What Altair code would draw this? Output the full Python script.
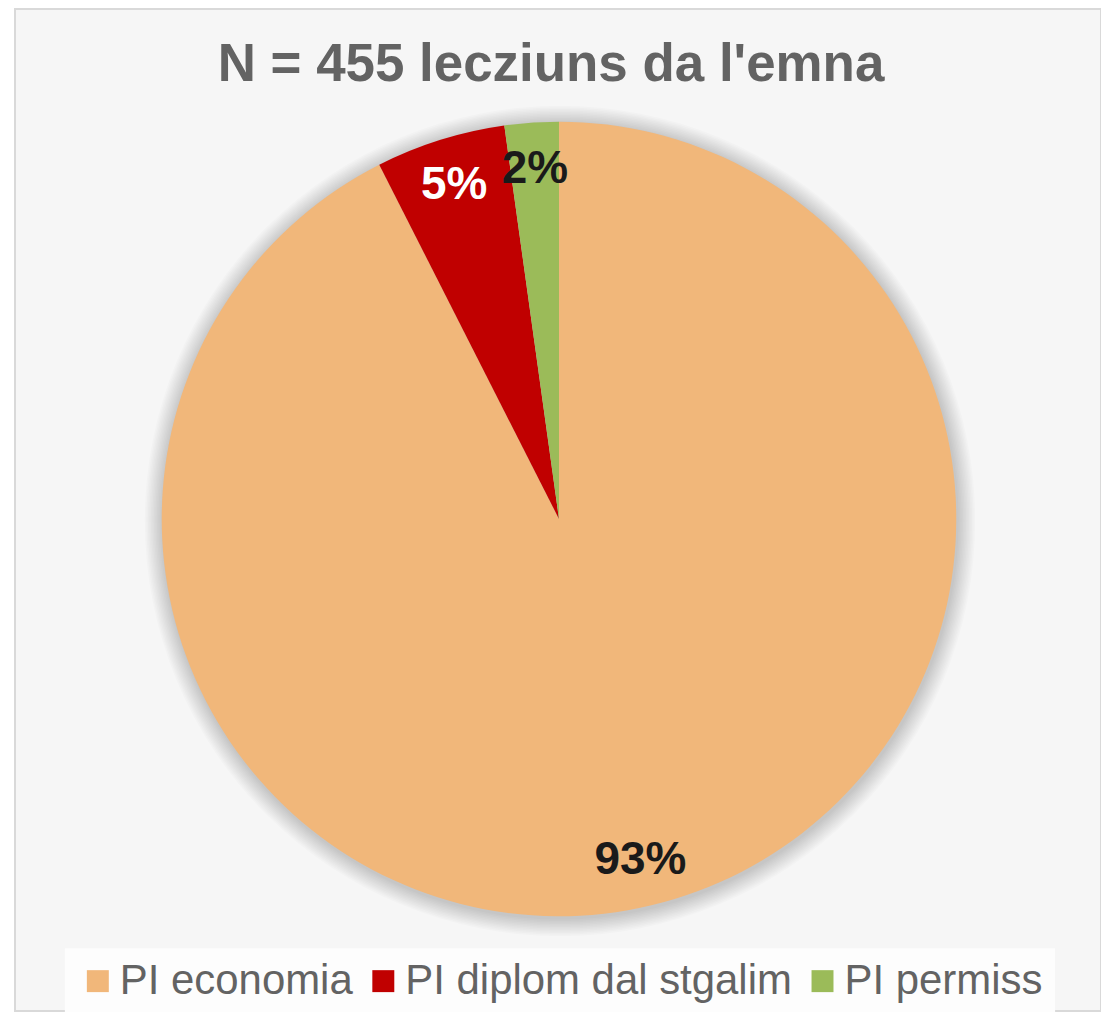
import altair as alt
import pandas as pd

# ---- data ----
categories = ["PI economia", "PI diplom dal stgalim", "PI permiss"]
counts = [421, 24, 10]
colors = ["#F1B77A", "#C00000", "#9BBB59"]
title_text = "N = 455 lecziuns da l'emna"

total = sum(counts)
df = pd.DataFrame({"categoria": categories, "n": counts, "idx": list(range(len(categories)))})
df["label"] = [f"{round(v / total * 100)}%" for v in counts]
one = pd.DataFrame({"k": [0]})

# ---- layout ----
W, H = 1088, 1004
CX, CY = 545, 511
R = 398
FONT = "Liberation Sans"
TXT = "#636363"

color_scale = alt.Scale(domain=categories, range=colors)

shadows = [
    alt.Chart(one).mark_arc(radius=R + 1.5 * k, theta=0, theta2=6.2832,
                            color="#000000", opacity=0.014)
    .encode(x=alt.value(CX + 1), y=alt.value(CY + 2))
    for k in range(1, 13)
]

base = alt.Chart(df).encode(
    theta=alt.Theta("n:Q", stack=True),
    order=alt.Order("idx:Q"),
    x=alt.value(CX),
    y=alt.value(CY),
)

pie = base.mark_arc(radius=R).encode(
    color=alt.Color(
        "categoria:N",
        scale=color_scale,
        legend=alt.Legend(
            title=None, orient="none", legendX=50, legendY=941,
            direction="horizontal", symbolType="square", symbolSize=484,
            symbolStrokeWidth=0, symbolOpacity=1,
            labelFontSize=42, labelFont=FONT, labelColor=TXT,
            labelOffset=1, columnPadding=9, padding=12,
            fillColor="#fdfdfd", labelLimit=0,
        ),
    )
)

labels = base.mark_text(
    radius=351, font=FONT, fontSize=46, fontWeight="bold",
    align="center", baseline="middle",
).encode(
    text="label:N",
    color=alt.condition(
        alt.datum.categoria == "PI diplom dal stgalim",
        alt.value("#ffffff"),
        alt.value("#1a1a1a"),
    ),
)

title = alt.Chart(one).mark_text(
    text=title_text, font=FONT, fontSize=53, fontWeight="bold",
    color=TXT, align="center", baseline="alphabetic",
).encode(x=alt.value(537), y=alt.value(72))

chart = (
    alt.layer(*shadows, pie, labels, title)
    .properties(
        width=W, height=H,
        padding={"left": 7, "top": 0, "right": 0, "bottom": 0},
        autosize=alt.AutoSizeParams(type="none"),
        background="#ffffff",
    )
    .configure_view(fill="#f6f6f6", stroke="#d9d9d9", strokeWidth=2)
)

chart.save("out.html", embed_options={"renderer": "svg", "actions": False})
